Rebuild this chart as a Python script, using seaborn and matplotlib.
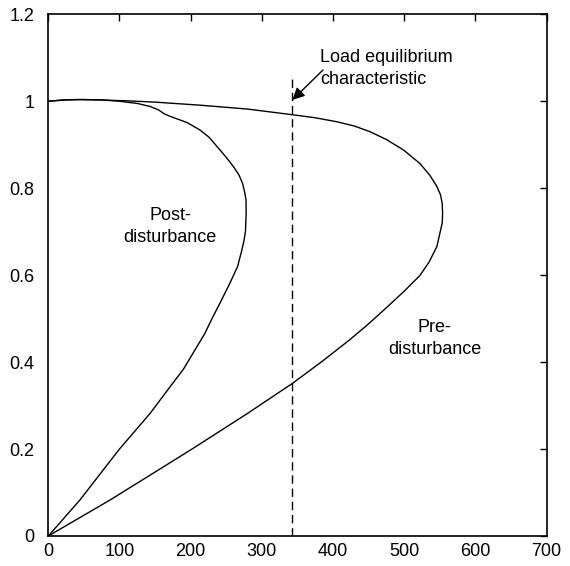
import numpy as np
import pandas as pd
import matplotlib
matplotlib.use("Agg")
import matplotlib.pyplot as plt
import seaborn as sns

# Pre-disturbance PV curve (lower branch -> nose -> upper branch)
pre_p = [0, 87, 200, 280, 343, 385, 424, 450, 475, 500, 522, 535, 546, 550, 553.5, 554,
         553.5, 551, 546, 536, 522, 499, 475, 452, 430, 405, 375, 343, 280, 213, 150, 110,
         72, 40, 20, 0]
pre_v = [0, 0.083, 0.198, 0.282, 0.351, 0.402, 0.452, 0.488, 0.525, 0.563, 0.599, 0.630,
         0.666, 0.695, 0.720, 0.742, 0.765, 0.785, 0.804, 0.830, 0.857, 0.888, 0.912, 0.930,
         0.943, 0.953, 0.962, 0.969, 0.982, 0.991, 0.998, 1.001, 1.003, 1.004, 1.003, 1.000]

# Post-disturbance PV curve
post_p = [0, 44.5, 100, 143, 171, 190, 205, 220, 230, 241, 255, 266, 272, 275, 277, 278,
          277.8, 276, 273, 268, 260, 249, 237, 226, 213, 195, 180, 170, 163, 155, 143, 125,
          100, 75, 50, 25, 0]
post_v = [0, 0.083, 0.200, 0.282, 0.343, 0.384, 0.425, 0.466, 0.500, 0.535, 0.581, 0.620,
          0.658, 0.680, 0.700, 0.742, 0.773, 0.790, 0.811, 0.830, 0.850, 0.873, 0.896, 0.917,
          0.934, 0.951, 0.960, 0.966, 0.971, 0.980, 0.988, 0.995, 1.000, 1.003, 1.004, 1.003,
          1.000]

# Load equilibrium characteristic (vertical line)
load_p = [343, 343]
load_v = [0, 1.057]

xticks = [0, 100, 200, 300, 400, 500, 600, 700]
yticks = [0, 0.2, 0.4, 0.6, 0.8, 1.0, 1.2]
ytick_labels = ["0", "0.2", "0.4", "0.6", "0.8", "1", "1.2"]

sns.set_theme(style="white")
plt.rcParams['font.family'] = ['Liberation Sans', 'DejaVu Sans']
plt.rcParams['text.color'] = 'black'

df = pd.concat([
    pd.DataFrame({"P": pre_p, "V": pre_v, "curve": "pre"}),
    pd.DataFrame({"P": post_p, "V": post_v, "curve": "post"}),
], ignore_index=True)
df_load = pd.DataFrame({"P": load_p, "V": load_v})

fig = plt.figure(figsize=(5.70, 5.66), dpi=100)
ax = fig.add_axes([48.3 / 570, 1 - 536 / 566, (546.5 - 48.3) / 570, (536 - 14.3) / 566])

sns.lineplot(data=df, x="P", y="V", units="curve", estimator=None, sort=False,
             color="black", linewidth=1.0, ax=ax, legend=False)
sns.lineplot(data=df_load, x="P", y="V", estimator=None, sort=False,
             color="black", linewidth=1.0, ax=ax, legend=False)
ax.lines[-1].set_linestyle((0, (6, 3.5)))

ax.set_xlim(0, 700)
ax.set_ylim(0, 1.2)
ax.set_xticks(xticks)
ax.set_xticklabels([str(t) for t in xticks])
ax.set_yticks(yticks)
ax.set_yticklabels(ytick_labels)
ax.set_xlabel("")
ax.set_ylabel("")
ax.tick_params(direction="in", length=5, width=1, top=True, right=True,
               labelsize=13, colors="black", pad=5)
ax.tick_params(axis="y", pad=10)
for s in ax.spines.values():
    s.set_visible(True)
    s.set_color("black")
    s.set_linewidth(1.2)

ax.text(171, 0.711, "Post-\ndisturbance", ha="center", va="center", fontsize=13,
        linespacing=1.4, color="black")
ax.text(543, 0.455, "Pre-\ndisturbance", ha="center", va="center", fontsize=13,
        linespacing=1.4, color="black")
ax.text(382, 1.075, "Load equilibrium\ncharacteristic", ha="left", va="center",
        fontsize=13, linespacing=1.4, color="black")
ax.annotate("", xy=(343, 1.003), xytext=(386, 1.072),
            arrowprops=dict(arrowstyle="-|>", color="black", lw=1.0,
                            mutation_scale=18, shrinkA=0, shrinkB=0))

fig.savefig("out.png", dpi=100)
